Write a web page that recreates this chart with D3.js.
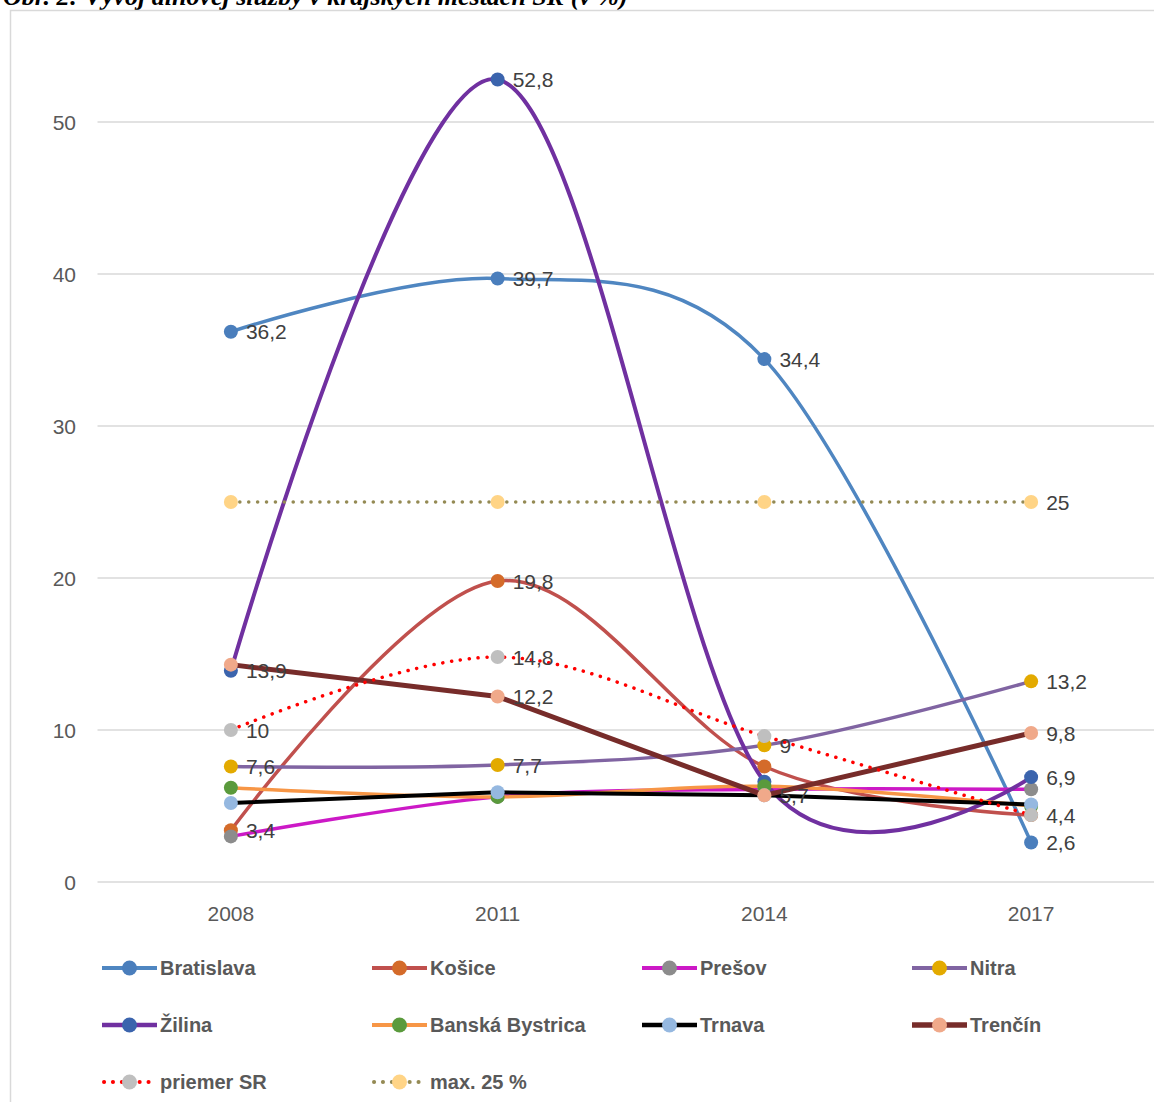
<!DOCTYPE html>
<html lang="sk">

<head>
  <meta charset="UTF-8">
  <title>Vývoj dlhovej služby</title>
  <script src="https://d3js.org/d3.v7.min.js"></script>
  <style>
      body {
          margin: 0;
          background: #fff;
      }

      text {
          font-family: "Liberation Sans", Arial, sans-serif;
      }

      .title {
          font-family: "Liberation Serif", "Times New Roman", serif;
          font-weight: bold;
          font-style: italic;
          font-size: 26px;
          fill: #000;
      }

      .tick-label {
          font-size: 21px;
          fill: #595959;
      }

      .data-label {
          font-size: 21px;
          fill: #404040;
      }

      .legend-label {
          font-size: 20px;
          font-weight: bold;
          fill: #595959;
      }
  </style>
</head>

<body>
<div class="canvas"></div>
<script>
  // roky (kategórie)
  const years = ["2008", "2011", "2014", "2017"];

  // hodnoty v % odčítané z grafu
  const bratislava = [36.2, 39.7, 34.4, 2.6];
  const kosice = [3.4, 19.8, 7.6, 4.4];
  const presov = [3.0, 5.6, 6.1, 6.1];
  const nitra = [7.6, 7.7, 9.0, 13.2];
  const zilina = [13.9, 52.8, 6.6, 6.9];
  const banskaBystrica = [6.2, 5.6, 6.3, 5.0];
  const trnava = [5.2, 5.9, 5.7, 5.1];
  const trencin = [14.3, 12.2, 5.7, 9.8];
  const priemerSR = [10, 14.8, 9.6, 4.4];
  const max25 = [25, 25, 25, 25];

  const yTicks = [0, 10, 20, 30, 40, 50];

  // ktoré body majú popisok (index roku)
  const series = [
    { name: "Bratislava", values: bratislava, line: "#4f86c1", marker: "#4a7ebc", width: 3.5, smooth: true, labels: [0, 1, 2, 3] },
    { name: "Košice", values: kosice, line: "#c0504d", marker: "#d46b2a", width: 3.5, smooth: true, labels: [0, 1] },
    { name: "Prešov", values: presov, line: "#cc19c6", marker: "#8c8c8c", width: 3.5, smooth: true, labels: [] },
    { name: "Nitra", values: nitra, line: "#8064a2", marker: "#e3aa00", width: 3.5, smooth: true, labels: [0, 1, 2, 3] },
    { name: "Žilina", values: zilina, line: "#7030a0", marker: "#3b64ad", width: 4, smooth: true, labels: [0, 1, 3] },
    { name: "Banská Bystrica", values: banskaBystrica, line: "#f79646", marker: "#5a9a3c", width: 3.5, smooth: true, labels: [] },
    { name: "Trnava", values: trnava, line: "#000000", marker: "#95b8e0", width: 4, smooth: false, labels: [] },
    { name: "Trenčín", values: trencin, line: "#772c2a", marker: "#f0a98a", width: 5, smooth: false, labels: [1, 2, 3] },
    { name: "priemer SR", values: priemerSR, line: "#ff0000", marker: "#bfbfbf", width: 3.5, smooth: true, dotted: true, labels: [0, 1, 3] },
    { name: "max. 25 %", values: max25, line: "#948a54", marker: "#ffd486", width: 3.5, smooth: false, dotted: true, labels: [3] }
  ];

  const width = 1154;
  const height = 1102;

  const svg = d3.select('.canvas')
    .append('svg')
    .attr('width', width)
    .attr('height', height)

  // nadpis (v origináli hore orezaný)
  svg.append('text')
    .attr('class', 'title')
    .attr('x', 3)
    .attr('y', 5)
    .text('Obr. 2: Vývoj dlhovej služby v krajských mestách SR (v %)')

  // rám grafu
  svg.append('rect')
    .attr('x', 10.5)
    .attr('y', 10.5)
    .attr('width', 1300)
    .attr('height', 1300)
    .attr('fill', 'none')
    .attr('stroke', '#d9d9d9')
    .attr('stroke-width', 1.5)

  const x = d3.scalePoint()
    .domain(years)
    .range([97.5, 1164.5])
    .padding(0.5);

  const y = d3.scaleLinear()
    .domain([0, 50])
    .range([882, 122]);

  // mriežka
  svg.append('g')
    .selectAll('line')
    .data(yTicks)
    .enter()
    .append('line')
    .attr('x1', 97.5)
    .attr('x2', 1164.5)
    .attr('y1', d => y(d))
    .attr('y2', d => y(d))
    .attr('stroke', '#d9d9d9')
    .attr('stroke-width', 1.5)

  // os y
  svg.append('g')
    .selectAll('text')
    .data(yTicks)
    .enter()
    .append('text')
    .attr('class', 'tick-label')
    .attr('x', 76)
    .attr('y', d => y(d))
    .attr('dy', '0.36em')
    .attr('text-anchor', 'end')
    .text(d => d)

  // os x
  svg.append('g')
    .selectAll('text')
    .data(years)
    .enter()
    .append('text')
    .attr('class', 'tick-label')
    .attr('x', d => x(d))
    .attr('y', 921)
    .attr('text-anchor', 'middle')
    .text(d => d)

  const fmt = v => String(v).replace('.', ',');

  const plot = svg.append('g')

  series.forEach(s => {
    const line = d3.line()
      .x((d, i) => x(years[i]))
      .y(d => y(d))
      .curve(s.smooth ? d3.curveCatmullRom.alpha(0) : d3.curveLinear);

    const path = plot.append('path')
      .attr('d', line(s.values))
      .attr('fill', 'none')
      .attr('stroke', s.line)
      .attr('stroke-width', s.width)
      .attr('stroke-linejoin', 'round')

    if (s.dotted) {
      path.attr('stroke-dasharray', '0.1 8.8')
        .attr('stroke-linecap', 'round')
    }

    plot.selectAll(null)
      .data(s.values)
      .enter()
      .append('circle')
      .attr('cx', (d, i) => x(years[i]))
      .attr('cy', d => y(d))
      .attr('r', 7)
      .attr('fill', s.marker)
  })

  // popisky dát navrchu
  const labels = svg.append('g')
  series.forEach(s => {
    s.labels.forEach(i => {
      labels.append('text')
        .attr('class', 'data-label')
        .attr('x', x(years[i]) + 15)
        .attr('y', y(s.values[i]))
        .attr('dy', '0.36em')
        .text(fmt(s.values[i]))
    })
  })

  // legenda
  const legend = svg.append('g')
  const colX = [102, 372, 642, 912];
  const rowY = [968, 1025, 1082];

  series.forEach((s, i) => {
    const lx = colX[i % 4];
    const ly = rowY[Math.floor(i / 4)];
    const item = legend.append('g')

    const l = item.append('line')
      .attr('x1', lx)
      .attr('x2', lx + 55)
      .attr('y1', ly)
      .attr('y2', ly)
      .attr('stroke', s.line)
      .attr('stroke-width', s.width + 0.5)

    if (s.dotted) {
      l.attr('stroke-dasharray', '0.1 8.8')
        .attr('stroke-linecap', 'round')
        .attr('x1', lx + 2)
    }

    item.append('circle')
      .attr('cx', lx + 27.5)
      .attr('cy', ly)
      .attr('r', 7.5)
      .attr('fill', s.marker)

    item.append('text')
      .attr('class', 'legend-label')
      .attr('x', lx + 58)
      .attr('y', ly)
      .attr('dy', '0.36em')
      .text(s.name)
  })
</script>
</body>

</html>
